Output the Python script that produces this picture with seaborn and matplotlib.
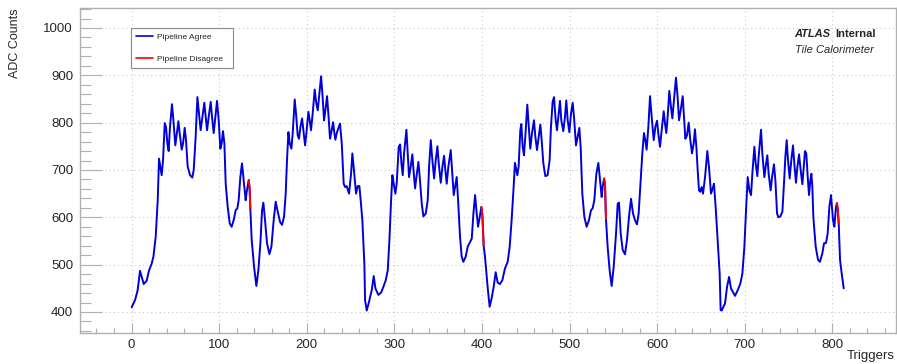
import matplotlib
matplotlib.use("Agg")
import matplotlib.pyplot as plt
from matplotlib.lines import Line2D
from matplotlib.ticker import MultipleLocator
import pandas as pd
import seaborn as sns

# ADC counts per trigger
trigger = [
    0.2, 4, 7, 9.7, 11.6, 13.9, 17.3, 20, 23, 25,
    27.6, 29.9, 31.4, 32.9, 34.4, 36, 37.9, 39.4, 40.9, 42.4,
    43.9, 46.2, 47.8, 50, 51.9, 53.5, 55, 57.3, 58.8, 60.7,
    62.2, 64.1, 66.8, 69.4, 71, 73.2, 75.2, 77, 78.9, 80.9,
    83.1, 84.7, 86.2, 88.1, 90.4, 91.9, 93.8, 95.3, 97.6, 99.5,
    101.4, 102.9, 104.4, 106, 107.5, 109.8, 112.1, 114.3, 116.6, 118.9,
    120.8, 122.3, 124.2, 126.1, 128, 130.3, 131.5, 133.8, 134.8, 135.6,
    137.2, 139.9, 142.5, 144.8, 147.1, 149, 150.5, 152.4, 154.7, 157.4,
    159.7, 162.3, 164.6, 166.9, 169.6, 171.8, 174.1, 176, 177.5, 179.1,
    180.6, 182.5, 184, 186.3, 187.8, 189.7, 191.2, 192.8, 194.7, 196.2,
    198.1, 199.6, 201.9, 203.4, 204.9, 206.8, 209.1, 211, 212.6, 214.1,
    216.4, 217.9, 219.8, 221.3, 223.2, 224.7, 226.6, 228.5, 230.1, 231.6,
    232.7, 234.6, 238, 240, 242.2, 243.8, 245.6, 248.3, 250.6, 252.1,
    253.6, 256.3, 258.2, 260.1, 261.6, 263.5, 265.8, 266.6, 268.5, 271.2,
    274.2, 276.5, 278.4, 281.8, 284.9, 287.5, 290.2, 292.5, 294.4, 296.3,
    297.8, 299.3, 301.2, 302.7, 305, 306.6, 308.1, 309.6, 311.1, 313.8,
    315.3, 316.8, 318.7, 320.6, 322.2, 323.7, 325.2, 327.5, 329, 331.3,
    333.2, 335.9, 338.1, 339.7, 341.6, 343.1, 345.4, 347.3, 349.2, 350.7,
    353, 354.9, 356.8, 358.3, 359.8, 361.7, 364.4, 365.9, 367.8, 369.3,
    371.2, 372.8, 375, 376.9, 378.8, 381.5, 383.8, 386.5, 388.4, 390.3,
    392.2, 393.7, 395.6, 397.5, 399.4, 400.5, 402, 403.5, 406.5, 408.8,
    411.1, 413.4, 415.7, 418, 420.6, 423.3, 426.3, 429.4, 431.7, 433.9,
    436.2, 437.7, 439.3, 440.4, 441.9, 443.8, 445, 446.5, 448, 449.5,
    451.8, 453.3, 455.2, 457.1, 459.4, 461, 462.9, 464.8, 466.7, 468.2,
    470.1, 472.4, 475, 477.3, 478.8, 480.7, 482.3, 484.2, 485.7, 487.2,
    489.1, 490.6, 492.9, 494.8, 496.3, 497.9, 499.8, 501.7, 503.6, 505.1,
    507.4, 508.9, 511.2, 512.7, 514.6, 516.9, 519.5, 522.2, 524.5, 526.4,
    528.3, 530.6, 532.9, 534.8, 536.7, 537.8, 539.4, 540.5, 541.6, 543.5,
    545.8, 548.1, 550.4, 553.1, 555, 556.5, 558.4, 560.7, 563.3, 565.6,
    567.9, 570.2, 572.5, 574.7, 577, 578.9, 580.8, 583.1, 585, 586.5,
    588, 590, 591.9, 593.8, 596.1, 598, 599.9, 601.4, 603.3, 605.2,
    607.5, 609, 610.5, 612, 613.9, 615.8, 617.4, 618.9, 621.5, 623.4,
    625, 626.9, 629.2, 630.7, 632.2, 634.1, 636, 637.9, 639.8, 641.7,
    643.2, 644.8, 646.3, 647.8, 649.3, 650.8, 652.4, 654.7, 657.3, 659.2,
    661.5, 663.4, 664.9, 666.8, 669.1, 671.4, 672.5, 673.7, 677.5, 679.8,
    682.1, 684.3, 688.9, 692, 695, 697.3, 699.6, 701.5, 703.4, 705.3,
    707.2, 708.7, 711, 712.5, 714.4, 715.9, 718.6, 720.1, 722.4, 723.9,
    725.8, 727.3, 729.6, 731.2, 733.4, 735, 736.9, 738.4, 740.7, 743,
    744.8, 746.4, 747.9, 749.4, 751.3, 753.2, 755.1, 756.6, 758.5, 760.1,
    762, 763.9, 765.8, 767.3, 768.8, 770.3, 771.9, 773.4, 774.9, 776.1,
    777.2, 778.3, 781, 783.7, 785.9, 788.6, 790.5, 792.8, 794.7, 796.6,
    798.5, 800.8, 802.3, 804.2, 805.3, 806.1, 807.3, 808.8, 810.7, 813,
]
adc = [
    410, 425, 446, 487, 474, 459, 466, 488, 502, 517,
    559, 636, 724, 707, 689, 721, 799, 791, 756, 740,
    791, 839, 805, 752, 780, 803, 777, 743, 756, 789,
    763, 707, 689, 684, 700, 770, 854, 819, 784, 812,
    842, 812, 784, 812, 844, 812, 778, 805, 846, 805,
    745, 756, 782, 756, 671, 622, 587, 580, 594, 615,
    619, 636, 685, 714, 678, 636, 654, 679, 662, 619,
    552, 495, 455, 488, 545, 615, 631, 594, 545, 522,
    538, 594, 633, 612, 590, 584, 601, 650, 721, 780,
    756, 745, 777, 849, 819, 773, 766, 791, 809, 784,
    752, 777, 823, 805, 784, 819, 870, 840, 826, 854,
    898, 861, 805, 826, 856, 819, 766, 784, 801, 777,
    764, 780, 798, 756, 671, 664, 666, 650, 692, 735,
    706, 650, 666, 666, 636, 594, 502, 425, 403, 422,
    446, 476, 450, 436, 441, 453, 467, 488, 552, 636,
    689, 671, 650, 671, 749, 754, 714, 689, 735, 785,
    735, 685, 707, 733, 692, 661, 685, 717, 685, 629,
    602, 608, 636, 707, 763, 728, 682, 721, 750, 714,
    673, 707, 730, 699, 671, 707, 742, 699, 647, 664,
    685, 636, 559, 517, 506, 517, 538, 548, 555, 608,
    647, 615, 580, 601, 622, 605, 540, 517, 453, 411,
    429, 453, 484, 462, 459, 467, 492, 506, 538, 594,
    664, 715, 700, 689, 707, 784, 797, 749, 731, 770,
    838, 798, 745, 777, 805, 770, 742, 770, 796, 763,
    714, 687, 689, 721, 791, 844, 854, 805, 784, 812,
    846, 805, 782, 812, 847, 805, 780, 819, 842, 812,
    752, 766, 789, 749, 650, 601, 580, 594, 615, 619,
    636, 692, 715, 678, 643, 664, 682, 670, 597, 538,
    488, 455, 495, 566, 629, 631, 566, 531, 522, 552,
    601, 639, 608, 594, 585, 608, 664, 735, 778, 763,
    743, 791, 856, 812, 763, 791, 804, 777, 749, 784,
    824, 798, 778, 812, 867, 833, 809, 840, 895, 854,
    805, 826, 856, 812, 766, 773, 800, 763, 735, 756,
    786, 749, 699, 657, 654, 664, 650, 685, 740, 706,
    650, 661, 671, 622, 552, 481, 404, 403, 418, 453,
    474, 450, 434, 446, 460, 481, 538, 615, 685, 657,
    647, 692, 749, 714, 687, 728, 785, 735, 685, 707,
    731, 692, 657, 685, 712, 678, 608, 600, 602, 612,
    671, 728, 763, 721, 682, 721, 752, 714, 673, 706,
    733, 699, 670, 706, 740, 735, 685, 647, 678, 692,
    664, 601, 538, 510, 506, 524, 545, 546, 566, 622,
    647, 594, 580, 622, 630, 618, 587, 510, 481, 450,
]

# short stretches where the two pipelines disagree (drawn red)
disagree_trigger = [133.8, 134.8, 135.6,
                    399.4, 400.5, 402,
                    539.4, 540.5, 541.6,
                    805.3, 806.1, 807.3]
disagree_adc = [679, 662, 619,
                622, 605, 540,
                682, 670, 597,
                630, 618, 587]
disagree_segment = [1, 1, 1, 2, 2, 2, 3, 3, 3, 4, 4, 4]

labels = ["Pipeline Agree", "Pipeline Disagree"]
colors = {"Pipeline Agree": "#0000d8", "Pipeline Disagree": "#ff0000"}

sns.set_style("ticks")
plt.rcParams["font.family"] = ["Liberation Sans", "DejaVu Sans"]

agree_df = pd.DataFrame({"trigger": trigger, "adc": adc,
                         "status": labels[0], "segment": 0})
dis_df = pd.DataFrame({"trigger": disagree_trigger, "adc": disagree_adc,
                       "status": labels[1], "segment": disagree_segment})
df = pd.concat([agree_df, dis_df], ignore_index=True)

fig = plt.figure(figsize=(8.97, 3.64), dpi=100)
ax = fig.add_axes([0.0892, 0.0852, 0.9097, 0.8929])

sns.lineplot(data=df, x="trigger", y="adc", hue="status", hue_order=labels,
             units="segment", estimator=None, sort=False, palette=colors,
             lw=1.4, solid_joinstyle="round", solid_capstyle="round",
             legend=False, ax=ax)

ax.set_xlim(-58.8, 872.7)
ax.set_ylim(355.6, 1042.3)
ax.xaxis.set_major_locator(MultipleLocator(100))
ax.xaxis.set_minor_locator(MultipleLocator(20))
ax.yaxis.set_major_locator(MultipleLocator(100))
ax.yaxis.set_minor_locator(MultipleLocator(20))

frame_grey = "#b0b0b0"
ax.tick_params(axis="x", which="major", direction="in", length=7, width=0.8,
               color=frame_grey, labelsize=9.5, pad=4)
ax.tick_params(axis="x", which="minor", direction="in", length=3.5, width=0.8,
               color=frame_grey)
ax.tick_params(axis="y", which="major", direction="in", length=16, width=0.8,
               color=frame_grey, labelsize=9.5, pad=5)
ax.tick_params(axis="y", which="minor", direction="in", length=8, width=0.8,
               color=frame_grey)
for side in ["left", "right", "top", "bottom"]:
    ax.spines[side].set_color(frame_grey)
    ax.spines[side].set_linewidth(1.0)

ax.set_axisbelow(True)
ax.grid(True, which="major", color="#c4c4c4", lw=0.75, ls=(0, (1, 3)))

ax.set_xlabel("Triggers", fontsize=9.5)
ax.xaxis.set_label_coords(0.9988, -0.071)
ax.xaxis.label.set_ha("right")
ax.xaxis.label.set_va("center")
ax.set_ylabel("ADC Counts", fontsize=9)
ax.yaxis.set_label_coords(-0.0797, 1.0)
ax.yaxis.label.set_ha("right")
ax.yaxis.label.set_va("center")

handles = [Line2D([], [], color=colors[l], lw=1.2) for l in labels]
leg = ax.legend(handles, labels, loc="upper left",
                bbox_to_anchor=(0.0625, 0.938, 0.125, 0.0), mode="expand",
                fontsize=6, handlelength=2.1, handletextpad=0.5,
                labelspacing=1.8, borderpad=0.55, borderaxespad=0,
                fancybox=False, framealpha=1, edgecolor="#888888")
leg.get_frame().set_linewidth(0.8)

ax.text(0.8754, 0.92, "ATLAS", transform=ax.transAxes, fontsize=8,
        fontweight="bold", fontstyle="italic", va="center", ha="left")
ax.text(0.9261, 0.92, "Internal", transform=ax.transAxes, fontsize=8,
        fontweight="bold", va="center", ha="left")
ax.text(0.8762, 0.8708, "Tile Calorimeter", transform=ax.transAxes,
        fontsize=8, fontstyle="italic", va="center", ha="left")

fig.savefig("out.png", dpi=100)
plt.close(fig)
